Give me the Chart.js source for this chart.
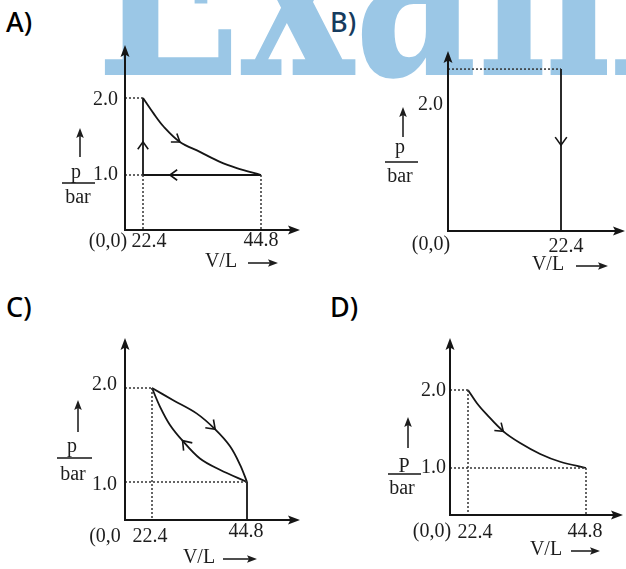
<!DOCTYPE html>
<html>
<head>
<meta charset="utf-8">
<script src="https://cdn.jsdelivr.net/npm/chart.js@4.4.1/dist/chart.umd.min.js"></script>
<style>
  html, body { margin: 0; padding: 0; background: #fff; }
  #page { position: relative; width: 626px; height: 569px; overflow: hidden; }
  .mark { position: absolute; left: 96px; top: -86px; font: bold 190px "DejaVu Serif"; color: rgb(155, 199, 230);
          line-height: 1; white-space: nowrap; transform-origin: 0 161px; transform: scaleY(1.4); }
  .tag { position: absolute; font: 500 27px "Noto Sans"; color: #000; line-height: 1; }
  canvas { position: absolute; }
</style>
</head>
<body>
<div id="page">
  <div class="mark">Exam</div>
  <div class="tag" style="left:6px;top:8px">A)</div>
  <div class="tag" style="left:330px;top:8px;color:#163b5e">B)</div>
  <div class="tag" style="left:6px;top:293px">C)</div>
  <div class="tag" style="left:330px;top:293px">D)</div>
  <canvas id="cA" width="313" height="285" style="left:0;top:0"></canvas>
  <canvas id="cB" width="313" height="285" style="left:313px;top:0"></canvas>
  <canvas id="cC" width="313" height="284" style="left:0;top:285px"></canvas>
  <canvas id="cD" width="313" height="284" style="left:313px;top:285px"></canvas>
</div>
<script>
// ---- data (V in L, p in bar) ----
// A: rise at 22.4, curved expansion, isobaric return
const aRiseV = [22.4, 22.4, 22.4];
const aRiseP = [1.0, 1.43, 2.0];
const aCurveV = [22.4, 24.4, 26.3, 29.4, 33.2, 37.0, 40.2, 44.8];
const aCurveP = [2.0, 1.80, 1.63, 1.43, 1.30, 1.17, 1.09, 1.0];
const aBackV = [44.8, 27.5, 22.4];
const aBackP = [1.0, 1.0, 1.0];
const aGuides = [[[0, 2.0], [22.4, 2.0]], [[0, 1.0], [22.4, 1.0]], [[22.4, 1.0], [22.4, 0]], [[44.8, 1.0], [44.8, 0]]];
const aTicksV = [22.4, 44.8];
const aTicksP = [2.0, 1.0];

// B: isochoric drop at 22.4
const bDropV = [22.4, 22.4, 22.4];
const bDropP = [2.53, 1.34, 0];
const bGuides = [[[0, 2.53], [22.4, 2.53]]];
const bTicksV = [22.4];
const bTicksP = [2.0];

// C: two curves between (22.4, 2.0) and (44.8, 1.0)
const cUpperV = [22.4, 27.4, 32.9, 37.3, 40.8, 43.2, 44.8];
const cUpperP = [2.0, 1.87, 1.73, 1.56, 1.38, 1.18, 1.0];
const cLowerV = [44.8, 38.4, 33.7, 29.6, 26.6, 24.3, 22.4];
const cLowerP = [1.0, 1.13, 1.25, 1.44, 1.61, 1.80, 2.0];
const cWallV = [44.8, 44.8];
const cWallP = [1.0, 0];
const cGuides = [[[0, 2.0], [22.4, 2.0]], [[22.4, 2.0], [22.4, 0]], [[0, 1.0], [44.8, 1.0]]];
const cTicksV = [22.4, 44.8];
const cTicksP = [2.0, 1.0];

// D: single expansion curve
const dCurveV = [22.4, 24.1, 25.9, 29.1, 32.3, 36.1, 39.9, 44.8];
const dCurveP = [2.0, 1.83, 1.69, 1.47, 1.32, 1.18, 1.08, 1.0];
const dGuides = [[[0, 2.0], [22.4, 2.0]], [[22.4, 2.0], [22.4, 0]], [[0, 1.0], [44.8, 1.0]], [[44.8, 1.0], [44.8, 0]]];
const dTicksV = [22.4, 44.8];
const dTicksP = [2.0, 1.0];

const INK = "#151515";
const FONT = "20px 'Liberation Serif'";

const zip = (xs, ys) => xs.map((v, i) => ({ x: v, y: ys[i] }));

function solid(xs, ys, arrowAt, curved) {
  return { data: zip(xs, ys), showLine: true, borderColor: INK, borderWidth: 1.8,
           tension: curved ? 0.35 : 0, pointRadius: 0, arrowAt: arrowAt || [] };
}
function dotted(seg) {
  return { data: seg.map(p => ({ x: p[0], y: p[1] })), showLine: true, borderColor: "#333",
           borderWidth: 1.5, borderDash: [2, 2], pointRadius: 0 };
}

// value at pixel p, given two (value, pixel) anchors
function valAt(anchors, p) {
  const [[v1, p1], [v2, p2]] = anchors;
  return v1 + (p - p1) * (v2 - v1) / (p2 - p1);
}

function line(ctx, x0, y0, x1, y1) {
  ctx.beginPath(); ctx.moveTo(x0, y0); ctx.lineTo(x1, y1); ctx.stroke();
}
function head(ctx, x, y, ang, len, half) {
  ctx.save(); ctx.translate(x, y); ctx.rotate(ang);
  ctx.beginPath(); ctx.moveTo(0, 0); ctx.lineTo(-len, -half); ctx.lineTo(-len * 0.8, 0); ctx.lineTo(-len, half);
  ctx.closePath(); ctx.fill(); ctx.restore();
}
function chevron(ctx, x, y, ang, len, spread) {
  ctx.save(); ctx.translate(x, y); ctx.rotate(ang);
  ctx.beginPath();
  ctx.moveTo(-len * Math.cos(spread), -len * Math.sin(spread));
  ctx.lineTo(0, 0);
  ctx.lineTo(-len * Math.cos(spread), len * Math.sin(spread));
  ctx.stroke(); ctx.restore();
}

const sketch = {
  id: "sketch",
  afterDatasetsDraw(chart, args, L) {
    const { ctx, chartArea: a, scales: { x, y } } = chart;
    ctx.save();
    ctx.strokeStyle = INK; ctx.fillStyle = INK; ctx.lineCap = "butt";

    // axes with arrow tips
    ctx.lineWidth = 2;
    line(ctx, a.left, a.bottom + 1, a.left, a.top + 6);
    line(ctx, a.left - 1, a.bottom, a.right - 6, a.bottom);
    head(ctx, a.left, a.top, -Math.PI / 2, 12, 4.5);
    head(ctx, a.right, a.bottom, 0, 12, 4.5);

    // direction chevrons on process lines
    ctx.lineWidth = 1.6;
    chart.data.datasets.forEach((ds, i) => {
      const pts = chart.getDatasetMeta(i).data;
      (ds.arrowAt || []).forEach(k => {
        const p = pts[k], p0 = pts[k - 1], p1 = pts[k + 1];
        chevron(ctx, p.x, p.y, Math.atan2(p1.y - p0.y, p1.x - p0.x), L.chev, 0.62);
      });
    });

    // tick labels
    ctx.font = FONT; ctx.fillStyle = "#1d1d1d";
    ctx.textAlign = "center"; ctx.textBaseline = "middle";
    L.ticksV.forEach((v, i) => ctx.fillText(v.toFixed(1), x.getPixelForValue(v) + L.xDx[i], L.xLabY[i]));
    ctx.textAlign = "right";
    L.ticksP.forEach((v, i) => ctx.fillText(v.toFixed(1), L.yLabRight, y.getPixelForValue(v) + L.yDy[i]));
    ctx.textAlign = "center";
    ctx.fillText(L.origin, L.oX, L.oY);

    // p / bar title with arrow
    ctx.textBaseline = "alphabetic";
    ctx.fillText(L.pText, L.pX, L.pBase);
    ctx.fillText("bar", L.barX, L.barBase);
    ctx.lineWidth = 1.5;
    line(ctx, L.frac[0], L.frac[2], L.frac[1], L.frac[2]);
    line(ctx, L.up[0], L.up[2], L.up[0], L.up[1] + 6);
    head(ctx, L.up[0], L.up[1], -Math.PI / 2, 10, 3.8);

    // V/L title with arrow
    ctx.textBaseline = "middle";
    ctx.fillText("V/L", L.vl[0], L.vl[1]);
    line(ctx, L.ar[0], L.ar[2], L.ar[1] - 6, L.ar[2]);
    head(ctx, L.ar[1], L.ar[2], 0, 10, 3.8);
    ctx.restore();
  }
};

function panel(id, datasets, G, labels) {
  const W = document.getElementById(id).width, H = document.getElementById(id).height;
  new Chart(document.getElementById(id), {
    type: "scatter",
    data: { datasets },
    options: {
      responsive: false,
      animation: false,
      events: [],
      layout: { padding: { left: G.axisX, top: G.tipY, right: W - G.tipX, bottom: H - G.axisY } },
      scales: {
        x: { type: "linear", display: false, min: valAt(G.xAnchor, G.axisX), max: valAt(G.xAnchor, G.tipX) },
        y: { type: "linear", display: false, min: valAt(G.yAnchor, G.axisY), max: valAt(G.yAnchor, G.tipY) }
      },
      plugins: { legend: { display: false }, tooltip: { enabled: false }, sketch: labels }
    },
    plugins: [sketch]
  });
}

panel("cA",
  [...aGuides.map(dotted), solid(aRiseV, aRiseP, [1]), solid(aCurveV, aCurveP, [3], true), solid(aBackV, aBackP, [1])],
  { axisX: 125, axisY: 230, tipX: 300, tipY: 45, xAnchor: [[22.4, 143], [44.8, 261]], yAnchor: [[2.0, 98], [1.0, 175]] },
  { ticksV: aTicksV, ticksP: aTicksP, xDx: [6, 0], xLabY: [242, 241], yLabRight: 118, yDy: [2, 0],
    origin: "(0,0)", oX: 108, oY: 242, pText: "p", pX: 76, pBase: 178, barX: 78, barBase: 203,
    frac: [62, 95, 183], up: [80, 128, 157], vl: [221, 262], ar: [248, 278, 263], chev: 9 });

panel("cB",
  [...bGuides.map(dotted), solid(bDropV, bDropP, [1])],
  { axisX: 135, axisY: 231, tipX: 312, tipY: 51, xAnchor: [[0, 135], [22.4, 248]], yAnchor: [[0, 231], [2.0, 103]] },
  { ticksV: bTicksV, ticksP: bTicksP, xDx: [5], xLabY: [247], yLabRight: 130, yDy: [2],
    origin: "(0,0)", oX: 118, oY: 245, pText: "p", pX: 87, pBase: 153, barX: 87, barBase: 182,
    frac: [72, 105, 162], up: [90, 107, 137], vl: [235, 265], ar: [263, 295, 266], chev: 10 });

panel("cC",
  [...cGuides.map(dotted), solid(cWallV, cWallP), solid(cUpperV, cUpperP, [3], true), solid(cLowerV, cLowerP, [3], true)],
  { axisX: 125, axisY: 235, tipX: 300, tipY: 53, xAnchor: [[22.4, 152], [44.8, 247]], yAnchor: [[2.0, 103], [1.0, 197]] },
  { ticksV: cTicksV, ticksP: cTicksP, xDx: [-2, -1], xLabY: [252, 247], yLabRight: 117, yDy: [-3, 3],
    origin: "(0,0", oX: 105, oY: 252, pText: "p", pX: 72, pBase: 167, barX: 73, barBase: 195,
    frac: [57, 92, 173], up: [78, 115, 147], vl: [199, 273], ar: [223, 257, 274], chev: 10 });

panel("cD",
  [...dGuides.map(dotted), solid(dCurveV, dCurveP, [3], true)],
  { axisX: 137, axisY: 230, tipX: 310, tipY: 53, xAnchor: [[22.4, 155], [44.8, 273]], yAnchor: [[2.0, 105], [1.0, 183]] },
  { ticksV: dTicksV, ticksP: dTicksP, xDx: [7, -1], xLabY: [248, 247], yLabRight: 133, yDy: [1, 0],
    origin: "(0,0)", oX: 119, oY: 247, pText: "P", pX: 91, pBase: 187, barX: 89, barBase: 209,
    frac: [75, 108, 189], up: [95, 132, 163], vl: [233, 265], ar: [258, 287, 266], chev: 9 });
</script>
</body>
</html>
